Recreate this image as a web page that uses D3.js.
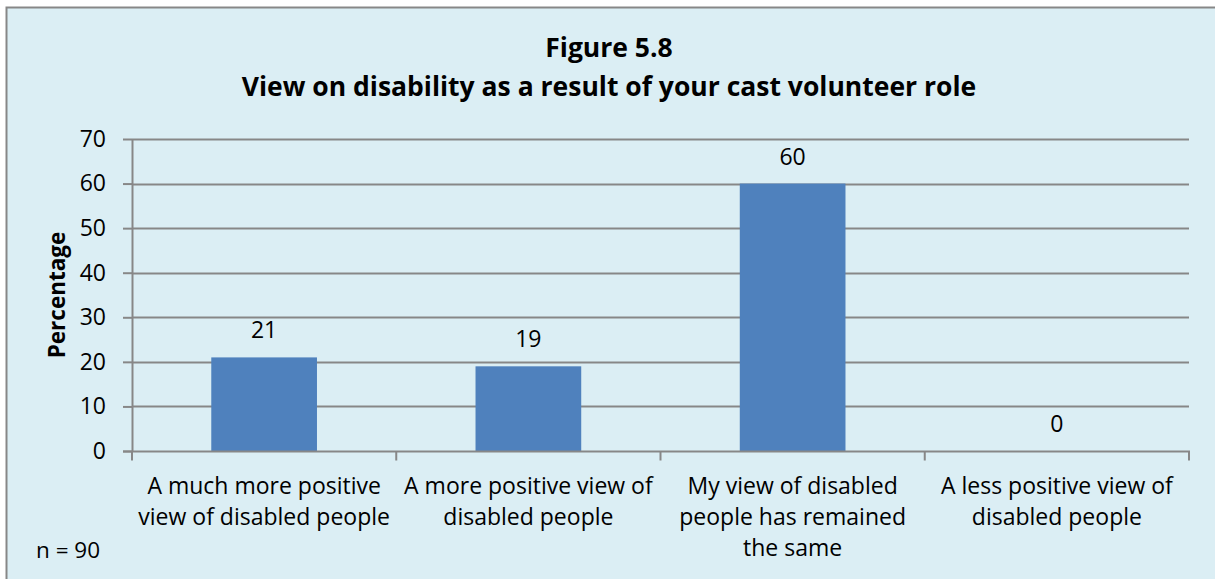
<!DOCTYPE html>
<html>
<head>
<meta charset="utf-8">
<script src="https://cdn.jsdelivr.net/npm/d3@7"></script>
<style>
  body { margin: 0; background: #fff; }
  svg { display: block; font-family: "Open Sans", Lato, sans-serif; }
</style>
</head>
<body>
<svg width="1215" height="579"></svg>
<script>
const categories = [
  ["A much more positive", "view of disabled people"],
  ["A more positive view of", "disabled people"],
  ["My view of disabled", "people has remained", "the same"],
  ["A less positive view of", "disabled people"]
];
const values = [21, 19, 60, 0];
const yTicks = [0, 10, 20, 30, 40, 50, 60, 70];
const titleLines = ["Figure 5.8", "View on disability as a result of your cast volunteer role"];

const svg = d3.select("svg");
const W = 1215, H = 579;
const margin = {left: 132, right: 26, top: 139, bottom: 128};
const font = "'Open Sans', Lato, sans-serif";

// chart area
svg.append("rect")
  .attr("x", 6.5).attr("y", 7.5)
  .attr("width", W).attr("height", H)
  .attr("fill", "#dbeef4")
  .attr("stroke", "#878787").attr("stroke-width", 2);

const x = d3.scaleBand()
  .domain(d3.range(categories.length))
  .range([margin.left, W - margin.right])
  .paddingInner(0.6).paddingOuter(0.3);

const y = d3.scaleLinear()
  .domain([0, 70])
  .range([H - margin.bottom, margin.top]);

// gridlines
svg.append("g")
  .selectAll("line")
  .data(yTicks.slice(1))
  .join("line")
  .attr("x1", margin.left).attr("x2", W - margin.right)
  .attr("y1", d => Math.round(y(d)) + 0.5).attr("y2", d => Math.round(y(d)) + 0.5)
  .attr("stroke", "#878787").attr("stroke-width", 2);

// bars
svg.append("g")
  .selectAll("rect")
  .data(values)
  .join("rect")
  .attr("x", (d, i) => x(i))
  .attr("width", x.bandwidth())
  .attr("y", d => y(d))
  .attr("height", d => y(0) - y(d))
  .attr("fill", "#4f81bd");

// value labels
svg.append("g")
  .selectAll("text")
  .data(values)
  .join("text")
  .attr("x", (d, i) => x(i) + x.bandwidth() / 2)
  .attr("y", d => y(d) - 19)
  .attr("text-anchor", "middle")
  .attr("font-size", 23)
  .attr("fill", "#000")
  .text(d => d);

// y axis
const yAxis = svg.append("g")
  .attr("transform", `translate(${margin.left},0)`)
  .call(d3.axisLeft(y).tickValues(yTicks).tickSize(9).tickPadding(17));
yAxis.selectAll("line").attr("stroke", "#878787").attr("stroke-width", 2);
yAxis.select(".domain").attr("stroke", "#878787").attr("stroke-width", 2)
  .attr("d", `M0.5,${y(70)}V${y(0)}`);
yAxis.selectAll("text").attr("font-size", 23).attr("fill", "#000")
  .attr("font-family", font);

// x axis
const xAxis = svg.append("g")
  .attr("transform", `translate(0,${Math.round(y(0)) + 0.5})`);
xAxis.append("line")
  .attr("x1", margin.left - 9).attr("x2", W - margin.right + 1)
  .attr("stroke", "#878787").attr("stroke-width", 2);
const boundaries = d3.range(categories.length + 1).map(i => margin.left + i * x.step());
xAxis.selectAll(".tk")
  .data(boundaries)
  .join("line")
  .attr("class", "tk")
  .attr("x1", d => d).attr("x2", d => d)
  .attr("y1", 0).attr("y2", 9)
  .attr("stroke", "#878787").attr("stroke-width", 2);

// category labels
svg.append("g")
  .selectAll("text")
  .data(categories)
  .join("text")
  .attr("text-anchor", "middle")
  .attr("font-size", 23)
  .attr("fill", "#000")
  .attr("transform", (d, i) => `translate(${x(i) + x.bandwidth() / 2},${y(0) + 43})`)
  .selectAll("tspan")
  .data(d => d)
  .join("tspan")
  .attr("x", 0)
  .attr("dy", (d, j) => j === 0 ? 0 : 31)
  .text(d => d);

// titles
svg.append("g")
  .selectAll("text")
  .data(titleLines)
  .join("text")
  .attr("x", 609)
  .attr("y", (d, i) => 57 + i * 39)
  .attr("text-anchor", "middle")
  .attr("font-size", 26.5)
  .attr("font-weight", "bold")
  .text(d => d);

// y title
svg.append("text")
  .attr("transform", `translate(65,${(y(0) + y(70)) / 2}) rotate(-90)`)
  .attr("text-anchor", "middle")
  .attr("font-size", 22.5)
  .attr("font-weight", "bold")
  .text("Percentage");

// sample size
svg.append("text")
  .attr("x", 36).attr("y", 558)
  .attr("font-size", 22.5)
  .text("n = 90");
</script>
</body>
</html>
